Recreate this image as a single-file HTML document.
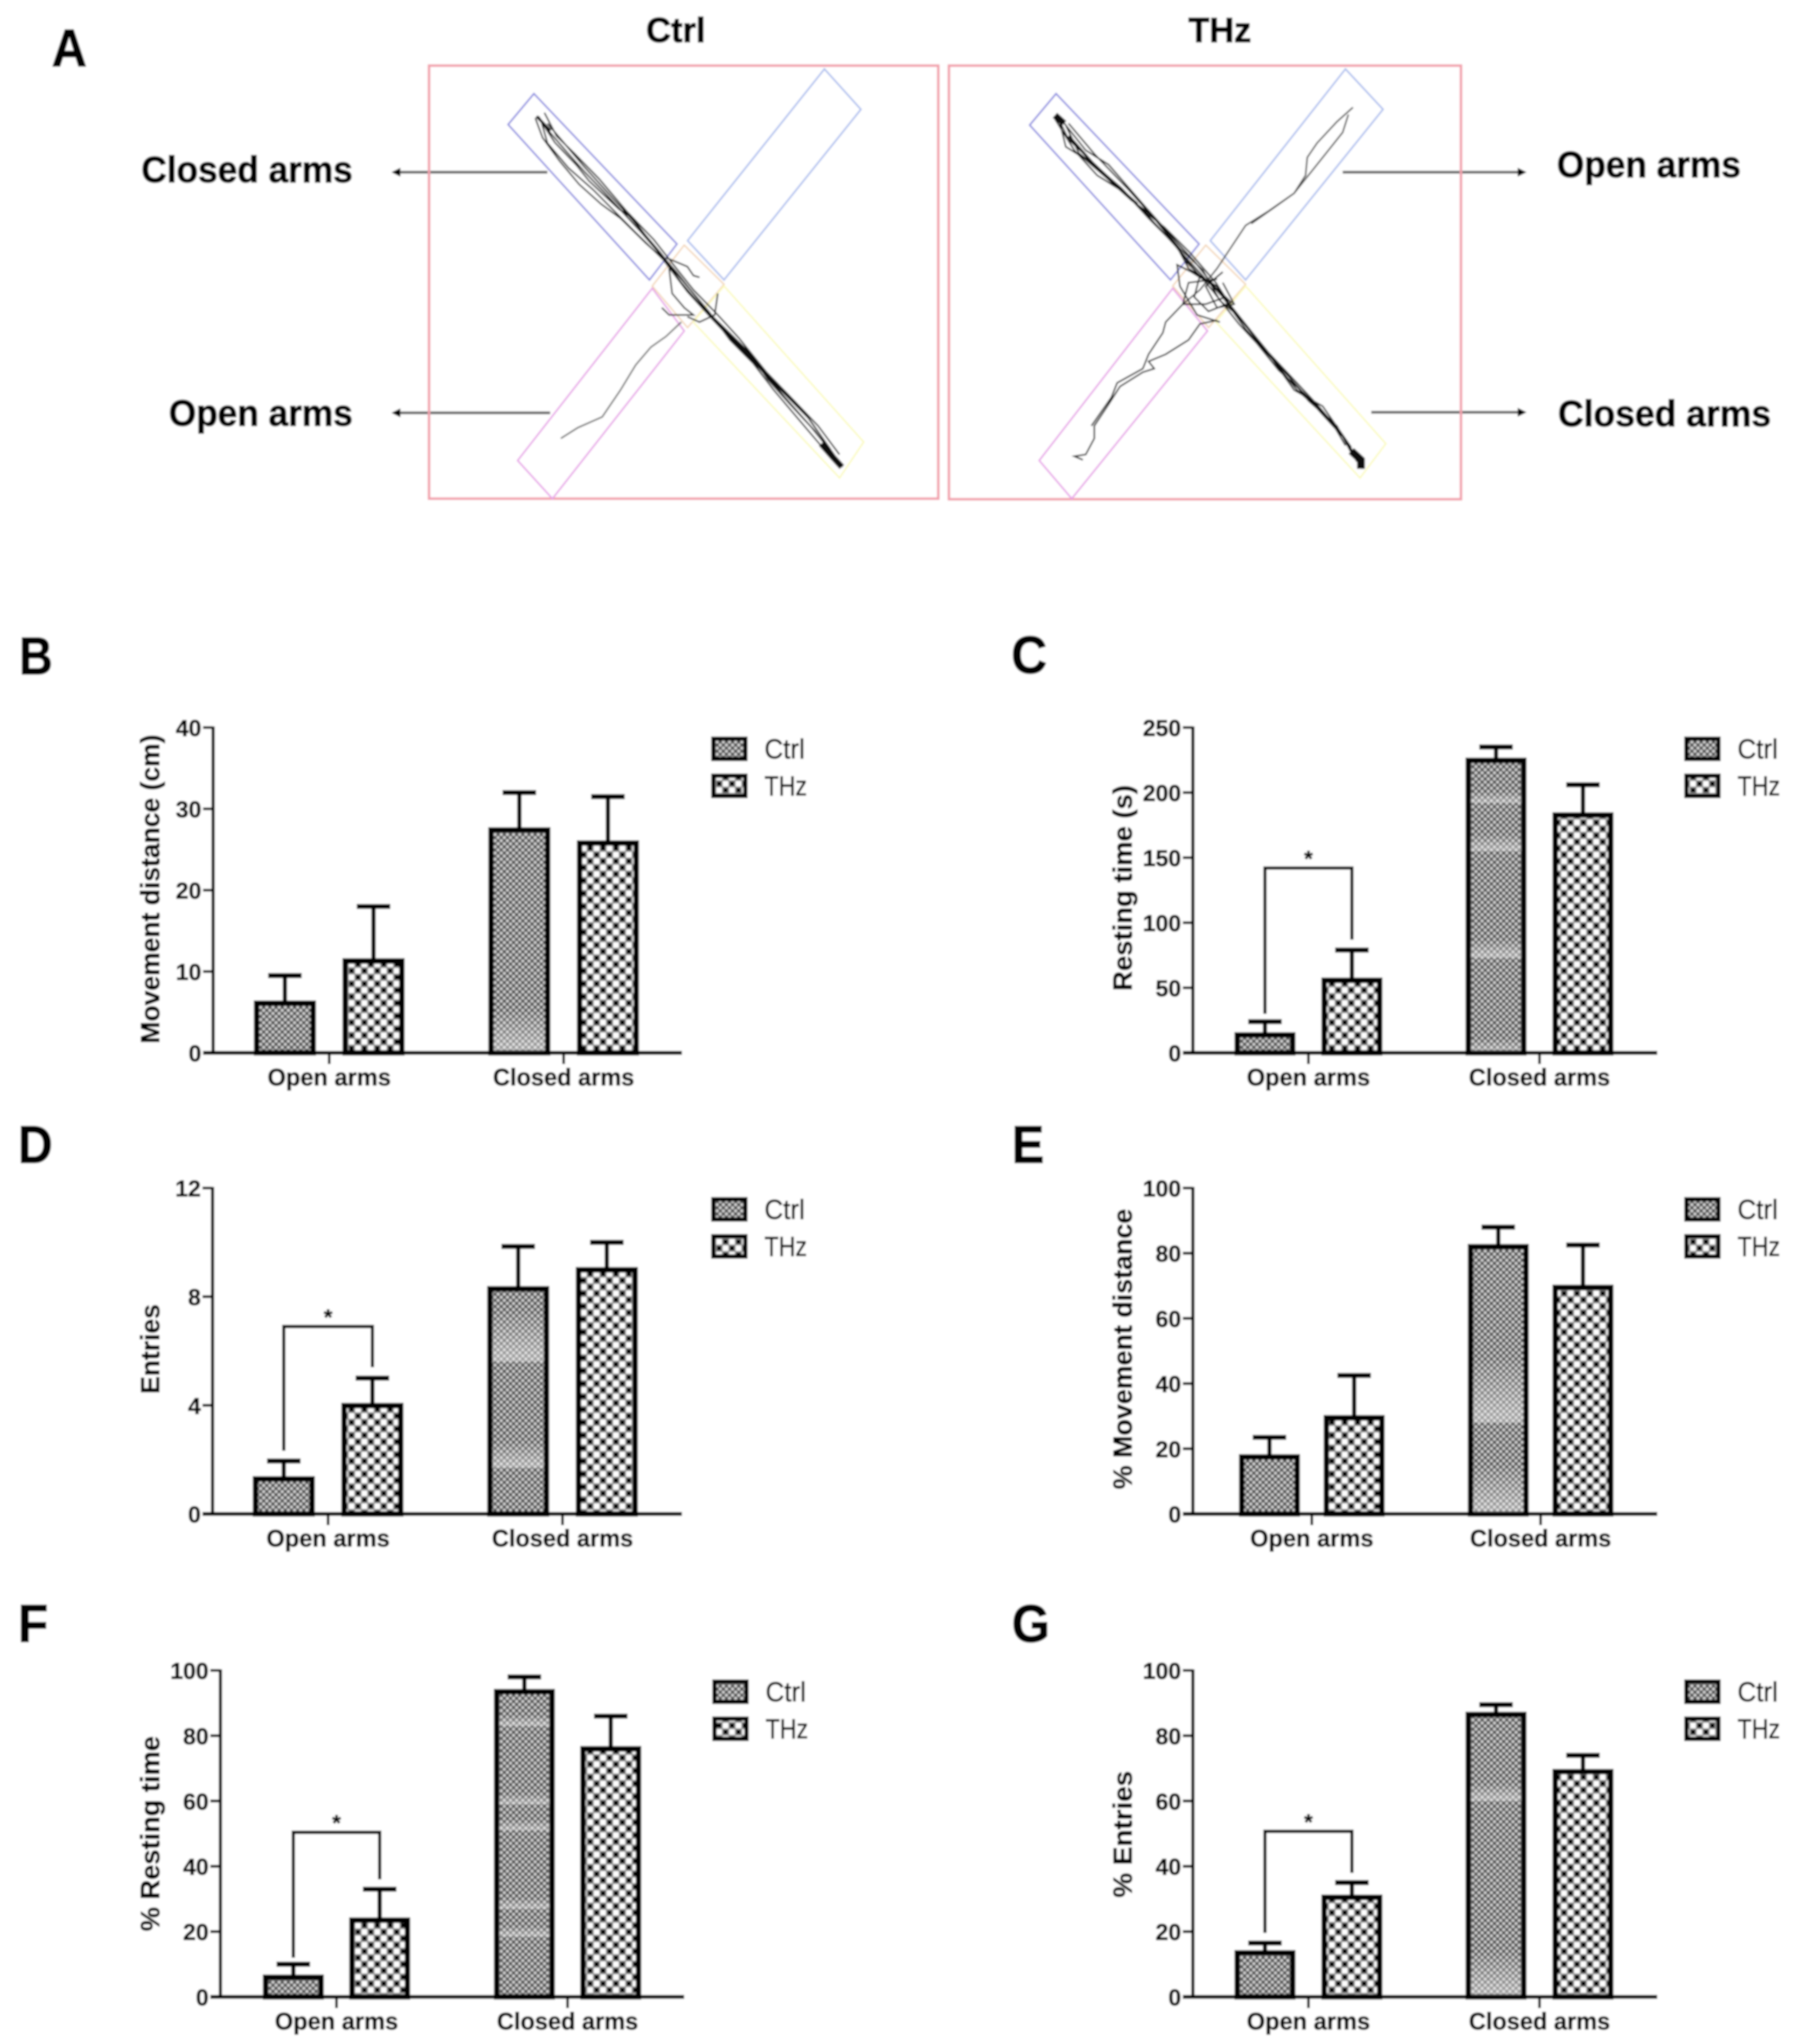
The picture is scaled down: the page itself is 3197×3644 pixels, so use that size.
<!DOCTYPE html>
<html lang="en">
<head>
<meta charset="utf-8">
<title>Elevated plus maze results</title>
<style>
html,body{margin:0;padding:0;background:#fff}
svg{display:block}
text{font-family:"Liberation Sans",sans-serif;fill:#000;stroke:#000;stroke-width:.9px}
.b{font-weight:700;stroke-width:1.6px}
</style>
</head>
<body>
<svg id="figure" xmlns="http://www.w3.org/2000/svg" width="3197" height="3644" viewBox="0 0 3197 3644">
<defs>
<filter id="soft" x="0" y="0" width="100%" height="100%" filterUnits="userSpaceOnUse" primitiveUnits="userSpaceOnUse"><feGaussianBlur stdDeviation="1.7"/></filter>
<pattern id="ctrl-fill" width="11" height="11" patternUnits="userSpaceOnUse">
<rect width="11" height="11" fill="#7c7c7c"/>
<rect x="0.7" y="0.7" width="4" height="4" fill="#e0e0e0"/>
<rect x="6.2" y="6.2" width="4" height="4" fill="#e0e0e0"/>
<rect x="6.2" y="0.7" width="4" height="4" fill="#4a4a4a"/>
<rect x="0.7" y="6.2" width="4" height="4" fill="#4a4a4a"/>
</pattern>
<pattern id="thz-fill" width="23" height="23" patternUnits="userSpaceOnUse">
<rect width="23" height="23" fill="#9a9a9a"/>
<rect x="1.5" y="1.5" width="8.5" height="8.5" fill="#000"/>
<rect x="13" y="13" width="8.5" height="8.5" fill="#000"/>
<rect x="12.5" y="1" width="9.5" height="9.5" fill="#fff"/>
<rect x="1" y="12.5" width="9.5" height="9.5" fill="#fff"/>
</pattern>
<linearGradient id="band-fade" x1="0" y1="0" x2="0" y2="1">
<stop offset="0" stop-color="#fff" stop-opacity="0.04"/>
<stop offset="0.85" stop-color="#fff" stop-opacity="0.42"/>
<stop offset="1" stop-color="#fff" stop-opacity="0.42"/>
</linearGradient>
</defs>
<g id="root" filter="url(#soft)">
<rect width="3197" height="3644" fill="#fff"/>

<g>
<text class="b" x="92" y="118" font-size="95" textLength="63" lengthAdjust="spacingAndGlyphs">A</text>
<text class="b" x="1152" y="75" font-size="62" textLength="106" lengthAdjust="spacingAndGlyphs">Ctrl</text>
<text class="b" x="2119" y="75" font-size="62" textLength="112" lengthAdjust="spacingAndGlyphs">THz</text>
<text class="b" x="252" y="325" font-size="66" textLength="377" lengthAdjust="spacingAndGlyphs">Closed arms</text>
<text class="b" x="301" y="759" font-size="66" textLength="328" lengthAdjust="spacingAndGlyphs">Open arms</text>
<text class="b" x="2776" y="316" font-size="66" textLength="328" lengthAdjust="spacingAndGlyphs">Open arms</text>
<text class="b" x="2778" y="760" font-size="66" textLength="380" lengthAdjust="spacingAndGlyphs">Closed arms</text>

<g>
<line x1="976" y1="307" x2="712" y2="307" stroke="#666" stroke-width="5"/>
<polygon points="698,307 714,299 714,315" fill="#000"/>
<line x1="981" y1="736" x2="712" y2="736" stroke="#666" stroke-width="5"/>
<polygon points="698,736 714,728 714,744" fill="#000"/>
<line x1="2394" y1="307" x2="2708" y2="307" stroke="#666" stroke-width="5"/>
<polygon points="2722,307 2706,299 2706,315" fill="#000"/>
<line x1="2445" y1="735" x2="2708" y2="735" stroke="#666" stroke-width="5"/>
<polygon points="2722,735 2706,727 2706,743" fill="#000"/>
</g>

<g fill="none">
<rect x="765" y="117" width="908" height="772" stroke="#f2a0ac" stroke-width="4.5"/>
<polygon points="1220,437 1291,507 1226,584 1163,510" stroke="#f2d2b0" stroke-width="2.5"/>
<polygon points="952,167 906,222 1158,499 1207,435" stroke="#8a8ae0" stroke-width="3"/>
<polygon points="1470,123 1535,195 1291,499 1226,429" stroke="#abbdee" stroke-width="3"/>
<polygon points="1163,514 1220,590 985,889 923,821" stroke="#e8a4e8" stroke-width="3"/>
<polygon points="1291,510 1540,788 1497,852 1236,574" stroke="#fbfbc0" stroke-width="3"/>
<g transform="scale(1.0846,0.638)" stroke="#111" stroke-width="2.8">
<polyline vector-effect="non-scaling-stroke" points="885,325 905,372 932,425 962,482 992,535 1022,590 1052,645 1090,720 1120,790 1150,850 1180,900 1212,962 1250,1030 1290,1110 1332,1190 1370,1270 1385,1305"/>
<polyline vector-effect="non-scaling-stroke" points="880,330 892,385 920,450 952,515 988,570 1020,610 1062,680 1095,730 1130,800 1165,870 1200,950 1238,1015 1272,1090 1312,1170 1352,1250 1380,1300"/>
<polyline vector-effect="non-scaling-stroke" points="895,315 915,380 945,430 985,500 1030,590 1075,670 1105,735 1140,810 1180,880 1215,945 1260,1040 1300,1110 1345,1190 1380,1270"/>
<polyline vector-effect="non-scaling-stroke" points="890,340 900,400 935,470 975,530 1010,590 1045,650 1090,725 1130,815 1170,890 1220,980 1275,1075 1330,1170 1375,1280"/>
<polyline vector-effect="non-scaling-stroke" points="888,335 912,398 948,462 968,505 1018,585 1040,610 1078,695 1112,760 1158,860 1192,925 1245,1012 1282,1082 1322,1152 1365,1255"/>
<polyline vector-effect="non-scaling-stroke" points="900,345 925,395 960,465 1000,540 1040,615 1085,705 1125,790 1172,885 1232,985 1262,1060 1298,1128 1340,1205 1378,1290"/>
<polyline vector-effect="non-scaling-stroke" points="1095,720 1130,745 1140,770 1150,775"/>
<polyline vector-effect="non-scaling-stroke" points="1100,750 1105,820 1125,860 1140,880 1100,880 1088,860"/>
<polyline vector-effect="non-scaling-stroke" points="1180,820 1175,880 1150,900 1130,885"/>
<polyline vector-effect="non-scaling-stroke" stroke="#666" points="1120,900 1095,940 1070,970 1045,1020 1020,1090 990,1165 950,1195 922,1225"/>
<polyline vector-effect="non-scaling-stroke" stroke-width="6" points="1190,920 1240,1010 1280,1085"/>
<polyline vector-effect="non-scaling-stroke" stroke-width="11" points="1350,1240 1368,1275 1384,1305"/>
<polyline vector-effect="non-scaling-stroke" stroke-width="5" points="882,325 905,365"/>
</g>
</g>

<g fill="none">
<rect x="1692" y="117" width="913" height="773" stroke="#f2a0ac" stroke-width="4.5"/>
<polygon points="2150,437 2221,507 2155,584 2091,510" stroke="#f2d2b0" stroke-width="2.5"/>
<polygon points="1883,167 1836,223 2087,499 2138,435" stroke="#8a8ae0" stroke-width="3"/>
<polygon points="2399,123 2466,195 2221,499 2158,429" stroke="#abbdee" stroke-width="3"/>
<polygon points="2091,514 2153,590 1911,889 1853,821" stroke="#e8a4e8" stroke-width="3"/>
<polygon points="2221,510 2471,791 2425,852 2168,574" stroke="#fbfbc0" stroke-width="3"/>
<g transform="translate(1600,0) scale(1.018,0.638)" stroke="#111" stroke-width="2.8">
<polyline vector-effect="non-scaling-stroke" points="280,325 300,390 340,450 380,510 420,570 460,640 500,710 540,780 570,830 600,890 640,970 690,1060 740,1150 780,1220 810,1300"/>
<polyline vector-effect="non-scaling-stroke" points="275,330 310,420 350,490 400,540 440,610 490,690 510,750 560,800 590,870 630,950 680,1040 720,1120 770,1190 800,1280"/>
<polyline vector-effect="non-scaling-stroke" points="290,340 330,420 370,460 430,570 480,660 520,730 570,830 610,920 660,1010 700,1090 750,1160 790,1240 815,1310"/>
<polyline vector-effect="non-scaling-stroke" points="285,345 295,410 325,440 365,495 410,560 445,600 472,655 505,725 552,812 598,905 630,960 668,1035 712,1098 758,1172 785,1245"/>
<polyline vector-effect="non-scaling-stroke" points="295,350 318,428 358,478 392,525 428,585 468,635 512,705 558,790 582,850 622,930 650,985 700,1070 735,1130 775,1205 805,1290"/>
<polyline vector-effect="non-scaling-stroke" points="300,345 345,430 405,530 455,620 495,695 535,755 565,840 595,880 655,1000 695,1090 745,1135 795,1250"/>
<polyline vector-effect="non-scaling-stroke" stroke="#444" points="798,300 770,340 735,400 718,440 715,490 695,540 650,590 610,630 585,690 560,750 530,810 500,850"/>
<polyline vector-effect="non-scaling-stroke" stroke="#444" points="790,320 780,370 755,420 725,480 695,540 660,580 620,625"/>
<polyline vector-effect="non-scaling-stroke" points="560,895 530,905 510,950 470,990 440,1010 450,1030 430,1040 390,1080 370,1130 345,1190 345,1225 330,1270 310,1275 325,1285"/>
<polyline vector-effect="non-scaling-stroke" points="500,850 470,900 465,930 440,990 430,1030 385,1070 375,1110 340,1190"/>
<polyline vector-effect="non-scaling-stroke" points="560,780 510,790 500,850 540,850 575,830 540,780 490,740 495,800 525,880 565,900"/>
<polyline vector-effect="non-scaling-stroke" points="570,760 540,800 560,860 590,850 570,790"/>
<polyline vector-effect="non-scaling-stroke" points="505,730 530,770 520,830 545,870 585,845 555,800 515,760"/>
<polyline vector-effect="non-scaling-stroke" stroke-width="12" points="276,322 292,345"/>
<polyline vector-effect="non-scaling-stroke" stroke-width="14" points="795,1260 812,1285 812,1310"/>
<polyline vector-effect="non-scaling-stroke" stroke-width="5" points="300,380 350,470 420,570"/>
</g>
</g>
</g>

<text class="b" x="34" y="1202" font-size="95" textLength="60" lengthAdjust="spacingAndGlyphs">B</text>
<text class="b" x="1803" y="1200" font-size="95" textLength="64" lengthAdjust="spacingAndGlyphs">C</text>
<text class="b" x="32" y="2073" font-size="95" textLength="62" lengthAdjust="spacingAndGlyphs">D</text>
<text class="b" x="1804" y="2073" font-size="95" textLength="58" lengthAdjust="spacingAndGlyphs">E</text>
<text class="b" x="32" y="2927" font-size="95" textLength="54" lengthAdjust="spacingAndGlyphs">F</text>
<text class="b" x="1804" y="2927" font-size="95" textLength="68" lengthAdjust="spacingAndGlyphs">G</text>

<g id="charts"></g>
</g>
</svg>

<script>
const categories = ['Open arms', 'Closed arms'];
const seriesNames = ['Ctrl', 'THz'];

const bTicks = [0, 10, 20, 30, 40];
const bCtrl = [6.3, 27.6];
const bThz = [11.5, 26];
const bCtrlTop = [9.5, 32];
const bThzTop = [18, 31.5];
const bCtrlBands = [[], [[0, 5]]];

const cTicks = [0, 50, 100, 150, 200, 250];
const cCtrl = [15, 226];
const cThz = [57, 184];
const cCtrlTop = [24, 235];
const cThzTop = [79, 206];
const cBracket = [142, 30, 87];
const cCtrlBands = [[], [[0, 10], [73, 86], [155, 167], [192, 200]]];

const dTicks = [0, 4, 8, 12];
const dCtrl = [1.35, 8.35];
const dThz = [4.05, 9.05];
const dCtrlTop = [1.95, 9.85];
const dThzTop = [5, 10];
const dBracket = [6.9, 2.33, 5.4];
const dCtrlBands = [[], [[1.7, 2.6], [5.6, 7.4]]];

const eTicks = [0, 20, 40, 60, 80, 100];
const eCtrl = [18, 82.5];
const eThz = [30, 70];
const eCtrlTop = [23.5, 88];
const eThzTop = [42.5, 82.5];
const eCtrlBands = [[], [[0, 14], [28, 47]]];

const fTicks = [0, 20, 40, 60, 80, 100];
const fCtrl = [6.5, 94];
const fThz = [24, 76.5];
const fCtrlTop = [10, 98];
const fThzTop = [33, 86];
const fBracket = [50.4, 12, 36];
const fCtrlBands = [[], [[18.5, 21.5], [27, 30], [51, 54], [59, 62], [83, 86]]];

const gTicks = [0, 20, 40, 60, 80, 100];
const gCtrl = [14, 87];
const gThz = [31, 69.5];
const gCtrlTop = [16.5, 89.5];
const gThzTop = [35, 74];
const gBracket = [50.7, 19.6, 38];
const gCtrlBands = [[], [[0, 13], [60, 65]]];

const SVGNS = 'http://www.w3.org/2000/svg';
const chartsRoot = document.getElementById('charts');

function mk(parent, tag, attrs, text) {
  const el = document.createElementNS(SVGNS, tag);
  for (const key in attrs) el.setAttribute(key, attrs[key]);
  if (text !== undefined) el.textContent = text;
  parent.appendChild(el);
  return el;
}

function drawPanel(name, data, box) {
  const panel = mk(chartsRoot, 'g', {});
  
  

  const maxValue = data.ticks[data.ticks.length - 1];
  const yScale = function (v) { return box.y0 - (v / maxValue) * (box.y0 - box.yTop); };
  const xCat = function (i) { return box.cat0 + i * (box.cat1 - box.cat0); };
  const xBar = function (i, s) { return xCat(i) + (s === 0 ? -box.off : box.off); };

  // Bars, bands and error bars
  const seriesValues = [data.ctrl, data.thz];
  const seriesTops = [data.ctrlTop, data.thzTop];
  const seriesFill = ['url(#ctrl-fill)', 'url(#thz-fill)'];
  const strokeW = 10;
  const inner = box.barW - strokeW;
  seriesValues.forEach(function (values, s) {
    values.forEach(function (v, i) {
      const cx = xBar(i, s);
      const top = seriesTops[s][i];

      const stem = mk(panel, 'line', {x1: cx, x2: cx, y1: yScale(v), y2: yScale(top), stroke: '#000', 'stroke-width': 8});
      
      

      const cap = mk(panel, 'line', {x1: cx - 30, x2: cx + 30, y1: yScale(top), y2: yScale(top), stroke: '#000', 'stroke-width': 9});
      
      

      const barTop = yScale(v) + strokeW / 2 - 2;
      const bar = mk(panel, 'rect', {x: cx - inner / 2, y: barTop, width: inner, height: box.y0 - barTop, fill: seriesFill[s], stroke: '#000', 'stroke-width': strokeW});
      
      

      if (s === 0) {
        (data.bands[i] || []).forEach(function (range) {
          const band = mk(panel, 'rect', {x: cx - inner / 2 + 5, y: yScale(range[1]), width: inner - 10, height: yScale(range[0]) - yScale(range[1]), fill: 'url(#band-fade)'});
          
          
        });
      }
    });
  });

  // Y axis
  const yAxis = mk(panel, 'line', {x1: box.axisX, x2: box.axisX, y1: box.yTop - 2, y2: box.y0 + 3, stroke: '#000', 'stroke-width': 6});
  
  

  data.ticks.forEach(function (t) {
    const y = yScale(t);
    const tick = mk(panel, 'line', {x1: box.axisX - 18, x2: box.axisX, y1: y, y2: y, stroke: '#000', 'stroke-width': 5});
    
    

    const label = mk(panel, 'text', {x: box.axisX - 21, y: y + 15, 'font-size': 41, 'font-weight': 700, 'text-anchor': 'end'}, String(t));
    
    
  });

  // X axis
  const xAxis = mk(panel, 'line', {x1: box.axisX - 18, x2: box.xEnd, y1: box.y0, y2: box.y0, stroke: '#000', 'stroke-width': 7});
  
  

  categories.forEach(function (c, i) {
    const x = xCat(i);
    const tick = mk(panel, 'line', {x1: x, x2: x, y1: box.y0, y2: box.y0 + 20, stroke: '#000', 'stroke-width': 5});
    
    

    const len = i === 0 ? 220 : 252;
    const label = mk(panel, 'text', {x: x - len / 2, y: box.y0 + 58, 'font-size': 43, 'font-weight': 700, textLength: len, lengthAdjust: 'spacingAndGlyphs'}, c);
    
    
  });

  // Y title
  const cy = box.titleY;
  const title = mk(panel, 'text', {x: box.titleX, y: cy, transform: 'rotate(-90 ' + box.titleX + ' ' + cy + ')', 'font-size': 47, 'font-weight': 700, 'text-anchor': 'middle', textLength: box.titleLen, lengthAdjust: 'spacingAndGlyphs'}, data.title);
  
  

  // Significance bracket
  if (data.bracket) {
    const xa = xBar(0, 0);
    const xb = xBar(0, 1);
    const yt = yScale(data.bracket[0]);
    const br = mk(panel, 'polyline', {points: xa + ',' + yScale(data.bracket[1]) + ' ' + xa + ',' + yt + ' ' + xb + ',' + yt + ' ' + xb + ',' + yScale(data.bracket[2]), fill: 'none', stroke: '#000', 'stroke-width': 6});
    
    

    const star = mk(panel, 'text', {x: (xa + xb) / 2, y: yt - 3, 'font-size': 40, 'font-weight': 700, 'text-anchor': 'middle'}, '*');
    
    
  }

  // Legend
  seriesNames.forEach(function (n, s) {
    const rowY = box.yTop + (s === 0 ? 20 : 86);
    const swatch = mk(panel, 'rect', {x: box.legendX + 4, y: rowY, width: 57, height: 36, fill: seriesFill[s], stroke: '#000', 'stroke-width': 8});
    
    

    const label = mk(panel, 'text', {x: box.legendX + 95, y: rowY + 35, 'font-size': 49, textLength: s === 0 ? 72 : 76, lengthAdjust: 'spacingAndGlyphs'}, n);
    
    
  });
}

drawPanel('b',
  {title: 'Movement distance (cm)', ticks: bTicks, ctrl: bCtrl, thz: bThz, ctrlTop: bCtrlTop, thzTop: bThzTop, bands: bCtrlBands, bracket: null},
  {axisX: 380, y0: 1877, yTop: 1297, xEnd: 1216, cat0: 587, cat1: 1005, off: 79, barW: 111, titleX: 284, titleY: 1585, titleLen: 551, legendX: 1268});
drawPanel('c',
  {title: 'Resting time (s)', ticks: cTicks, ctrl: cCtrl, thz: cThz, ctrlTop: cCtrlTop, thzTop: cThzTop, bands: cCtrlBands, bracket: cBracket},
  {axisX: 2127, y0: 1877, yTop: 1297, xEnd: 2955, cat0: 2333, cat1: 2745, off: 77.5, barW: 109, titleX: 2018, titleY: 1583, titleLen: 367, legendX: 3003});
drawPanel('d',
  {title: 'Entries', ticks: dTicks, ctrl: dCtrl, thz: dThz, ctrlTop: dCtrlTop, thzTop: dThzTop, bands: dCtrlBands, bracket: dBracket},
  {axisX: 379, y0: 2699, yTop: 2118, xEnd: 1216, cat0: 585, cat1: 1003, off: 79, barW: 111, titleX: 284, titleY: 2405, titleLen: 160, legendX: 1268});
drawPanel('e',
  {title: '% Movement distance', ticks: eTicks, ctrl: eCtrl, thz: eThz, ctrlTop: eCtrlTop, thzTop: eThzTop, bands: eCtrlBands, bracket: null},
  {axisX: 2127, y0: 2699, yTop: 2118, xEnd: 2955, cat0: 2339, cat1: 2747, off: 75.5, barW: 109, titleX: 2018, titleY: 2405, titleLen: 500, legendX: 3003});
drawPanel('f',
  {title: '% Resting time', ticks: fTicks, ctrl: fCtrl, thz: fThz, ctrlTop: fCtrlTop, thzTop: fThzTop, bands: fCtrlBands, bracket: fBracket},
  {axisX: 393, y0: 3560, yTop: 2978, xEnd: 1220, cat0: 600, cat1: 1012, off: 77, barW: 109, titleX: 284, titleY: 3269, titleLen: 348, legendX: 1270});
drawPanel('g',
  {title: '% Entries', ticks: gTicks, ctrl: gCtrl, thz: gThz, ctrlTop: gCtrlTop, thzTop: gThzTop, bands: gCtrlBands, bracket: gBracket},
  {axisX: 2127, y0: 3560, yTop: 2978, xEnd: 2955, cat0: 2333, cat1: 2745, off: 77.5, barW: 109, titleX: 2018, titleY: 3270, titleLen: 226, legendX: 3003});
</script>
</body>
</html>
